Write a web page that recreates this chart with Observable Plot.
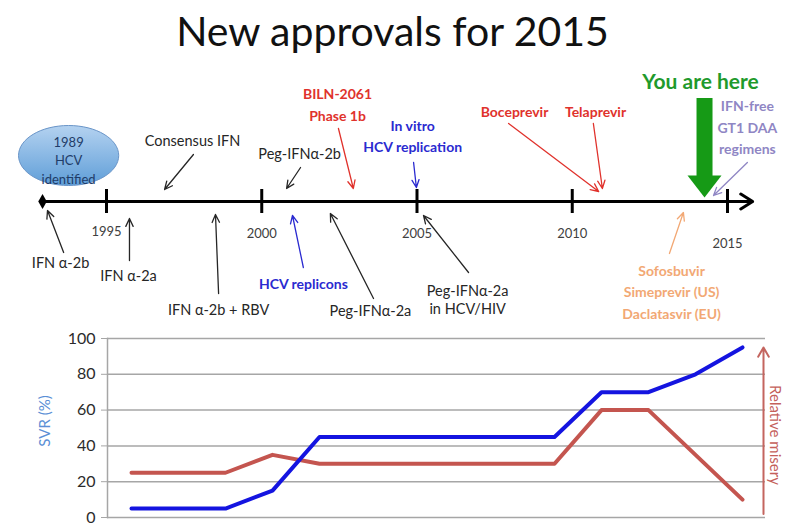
<!DOCTYPE html>
<html><head><meta charset="utf-8">
<script src="https://cdn.jsdelivr.net/npm/d3@7"></script>
<script src="https://cdn.jsdelivr.net/npm/@observablehq/plot@0.6"></script>
<style>
body{margin:0;background:#fff;font-family:Lato,"Open Sans",sans-serif;}
#wrap{position:relative;width:785px;height:527px;overflow:hidden;background:#fff;}
#title{position:absolute;top:8px;left:0;width:785px;text-align:center;font-size:41px;line-height:46px;color:#111;}
#timeline{position:absolute;top:60px;left:0;}
#svr{position:absolute;top:321px;left:0;}
</style></head>
<body><div id="wrap"><div id="title">New approvals for 2015</div><div id="timeline"></div><div id="svr"></div></div>
<script>
// ---------- DATA ----------
const tickYears = [1995, 2000, 2005, 2010, 2015];
const tickLabels = ["1995", "2000", "2005", "2010", "2015"];
const timelineStart = 1992.94;
const timelineEnd = 2015.81;
const discovery = {year: 1993.78, label: "1989\nHCV\nidentified"};
const youAreHere = {year: 2014.26, label: "You are here"};

const eventLabels = [
  "IFN α-2b", "IFN α-2a", "Consensus IFN", "IFN α-2b + RBV", "Peg-IFNα-2b",
  "BILN-2061\nPhase 1b", "HCV replicons", "Peg-IFNα-2a", "In vitro\nHCV replication",
  "Peg-IFNα-2a\nin HCV/HIV", "Boceprevir", "Telaprevir",
  "IFN-free\nGT1 DAA\nregimens", "Sofosbuvir\nSimeprevir (US)\nDaclatasvir (EU)"
];
const eventYears = [1993.10, 1995.74, 1996.87, 1998.51, 2000.80, 2002.95, 2000.99, 2002.21,
  2004.98, 2005.21, 2010.85, 2010.97, 2014.55, 2013.58];
const eventKinds = ["interferon", "interferon", "interferon", "interferon", "interferon",
  "protease", "research", "interferon", "research", "interferon", "protease", "protease",
  "dualDAA", "approved2015"];

const periods = ["1","2","3","4","5","6","7","8","9","10","11","12","13","14"];
const svr =    [5, 5, 5, 15, 45, 45, 45, 45, 45, 45, 70, 70, 80, 95];
const misery = [25, 25, 25, 35, 30, 30, 30, 30, 30, 30, 60, 60, 35, 10];
const svrTicks = [0, 20, 40, 60, 80, 100];

// ---------- LAYOUT / STYLE ----------
const kindColor = {interferon: "#262626", protease: "#e0322c", research: "#2a2ad0",
  dualDAA: "#8f86c4", approved2015: "#f2a874"};
// [textYear, textDy, arrowStartYear, arrowStartDy, arrowTipDy]
const placement = [
  [1993.52, 61, 1993.62, 51, 9],
  [1995.71, 74, 1995.74, 59, 17],
  [1997.77, -61, 1997.80, -47, -12],
  [1998.61, 108, 1998.61, 92, 13],
  [2001.22, -48, 2001.25, -34, -13],
  [2002.44, -98.5, 2002.47, -73, -13],
  [2001.34, 81, 2001.34, 66, 14],
  [2003.50, 109, 2003.60, 97, 12],
  [2004.86, -67, 2004.89, -39, -14],
  [2006.63, 98, 2006.66, 71, 14],
  [2008.14, -91, 2007.95, -78, -10],
  [2010.75, -91, 2010.68, -78, -13],
  [2015.64, -75.5, 2015.64, -39, -6],
  [2013.20, 89, 2013.13, 52, 11]
];
const tickLabelDy = [30, 32, 32, 32, 42];

const events = eventLabels.map((label, i) => ({
  label, year: eventYears[i], kind: eventKinds[i], color: kindColor[eventKinds[i]],
  tx: placement[i][0], ty: placement[i][1], sx: placement[i][2], sy: placement[i][3], ey: placement[i][4]
}));
const ticks = tickYears.map((y, i) => ({year: y, label: tickLabels[i], dy: tickLabelDy[i]}));

const ellipseSymbol = {draw(ctx, size) {
  const r = Math.sqrt(size / Math.PI), rx = r * 1.67, ry = r, k = 0.5523;
  ctx.moveTo(rx, 0);
  ctx.bezierCurveTo(rx, ry * k, rx * k, ry, 0, ry);
  ctx.bezierCurveTo(-rx * k, ry, -rx, ry * k, -rx, 0);
  ctx.bezierCurveTo(-rx, -ry * k, -rx * k, -ry, 0, -ry);
  ctx.bezierCurveTo(rx * k, -ry, rx, -ry * k, rx, 0);
  ctx.closePath();
}};
const headDown = {draw(ctx, size) {
  const r = Math.sqrt(size / Math.PI);
  ctx.moveTo(-r, -r * 1.3); ctx.lineTo(r, -r * 1.3); ctx.lineTo(0, 0); ctx.closePath();
}};

const black = events.filter(d => d.kind === "interferon");
const colored = events.filter(d => d.kind !== "interferon");

const tl = Plot.plot({
  width: 785, height: 265, margin: 0,
  x: {domain: [1995, 2015], range: [106, 727], axis: null},
  y: {domain: [-141, 124], range: [0, 265], axis: null},
  color: {type: "identity"},
  style: {fontFamily: "Lato, 'Open Sans', sans-serif", background: "transparent", overflow: "visible"},
  marks: [
    Plot.arrow([{a: timelineStart, b: timelineEnd}], {x1: "a", x2: "b", y1: 0, y2: 0,
      stroke: "#000", strokeWidth: 3, headLength: 7, headAngle: 64}),
    Plot.ruleX(ticks, {x: "year", y1: -12, y2: 12, stroke: "#000", strokeWidth: 3}),
    Plot.dot([timelineStart], {x: d => d, y: 0, symbol: "diamond", r: 4.5, fill: "#000", stroke: null}),
    Plot.text(ticks, {x: "year", y: "dy", text: "label", fontSize: 13, fill: "#404040"}),
    Plot.dot([discovery], {x: "year", y: -46, r: 30, symbol: ellipseSymbol,
      fill: "url(#ellGrad)", stroke: "#6a95c8", strokeWidth: 1}),
    Plot.text([discovery], {x: "year", y: -42, text: "label", fontSize: 13, lineHeight: 1.42,
      fill: "#1f3c68", lineAnchor: "middle"}),
    Plot.arrow(events, {x1: "sx", y1: "sy", x2: "year", y2: "ey", stroke: "color",
      strokeWidth: 1.3, headLength: 10, headAngle: 50}),
    Plot.text(black, {x: "tx", y: "ty", text: "label", fill: "color", fontSize: 14.5,
      lineHeight: 1.25, lineAnchor: "middle"}),
    Plot.text(colored, {x: "tx", y: "ty", text: "label", fill: "color", fontSize: 14,
      fontWeight: "bold", lineHeight: 1.53, lineAnchor: "middle"}),
    Plot.ruleX([youAreHere], {x: "year", y1: -103, y2: -24, stroke: "#169a16", strokeWidth: 16}),
    Plot.dot([youAreHere], {x: "year", y: -4, r: 17, symbol: headDown, fill: "#169a16", stroke: null}),
    Plot.text([youAreHere], {x: "year", y: -119, text: "label", fill: "#1f9a2c", fontSize: 21,
      fontWeight: "bold", lineAnchor: "middle", dx: -4})
  ]
});
const defs = d3.select(tl).insert("defs", ":first-child");
const grad = defs.append("linearGradient").attr("id", "ellGrad")
  .attr("x1", 0).attr("y1", 0).attr("x2", 0).attr("y2", 1);
grad.append("stop").attr("offset", "0%").attr("stop-color", "#b4d2f0");
grad.append("stop").attr("offset", "100%").attr("stop-color", "#5f9ed8");
document.getElementById("timeline").append(tl);

const rows = periods.map((p, i) => ({period: p, svr: svr[i], misery: misery[i]}));
const chart = Plot.plot({
  width: 785, height: 206, marginLeft: 107, marginRight: 20, marginTop: 17, marginBottom: 10,
  x: {type: "point", domain: periods, padding: 0.5, axis: null},
  y: {domain: [0, 100], axis: null},
  style: {fontFamily: "Lato, 'Open Sans', sans-serif", background: "transparent", overflow: "visible"},
  marks: [
    Plot.gridY(svrTicks, {stroke: "#a6a6a6", strokeOpacity: 1, strokeWidth: 1.5}),
    Plot.axisY(svrTicks, {tickSize: 6, tickPadding: 6, fontSize: 16, stroke: "#a6a6a6",
      fill: "#2b2b2b", label: null}),
    Plot.frame({anchor: "left", stroke: "#a6a6a6", strokeWidth: 1.5}),
    Plot.line(rows, {x: "period", y: "misery", stroke: "#c4554f", strokeWidth: 4}),
    Plot.line(rows, {x: "period", y: "svr", stroke: "#1414e0", strokeWidth: 4}),
    Plot.arrow([periods[periods.length - 1]], {x: d => d, y1: 2, y2: 95, dx: 21,
      stroke: "#c4655f", strokeWidth: 2, headLength: 8, headAngle: 60}),
    Plot.text(["Relative misery"], {frameAnchor: "right", dx: 9.5, dy: 7, rotate: 90,
      textAnchor: "middle", lineAnchor: "middle",
      text: d => d, fontSize: 15, fill: "#c4605a"}),
    Plot.text(["SVR (%)"], {frameAnchor: "left", dx: -62, dy: -7, rotate: -90,
      textAnchor: "middle", lineAnchor: "middle",
      text: d => d, fontSize: 15, fill: "#5b8fd6"})
  ]
});
document.getElementById("svr").append(chart);
</script>
</body></html>
